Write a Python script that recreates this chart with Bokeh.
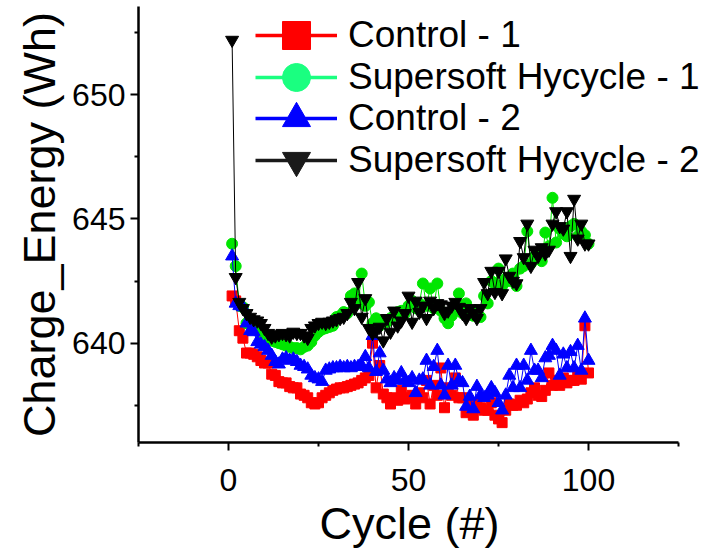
from bokeh.plotting import figure
from bokeh.models import Range1d, FixedTicker, Legend, LegendItem, Title
from bokeh.embed import file_html
from bokeh.resources import INLINE

cycles = list(range(1, 101))

control_1 = [
    641.9, 641.7, 640.5, 640.2, 639.6, 639.6, 639.55, 639.45, 639.3, 639.2,
    639.2, 638.75, 638.7, 638.45, 638.4, 638.4, 638.25, 638.2, 638.2, 637.95,
    637.9, 637.8, 637.6, 637.55, 637.6, 637.8, 637.9, 638.0, 638.1, 638.15,
    638.2, 638.2, 638.25, 638.3, 638.35, 638.4, 638.5, 638.6, 638.7, 640.0,
    638.2, 639.1, 637.95, 637.8, 637.55, 637.8, 637.7, 638.1, 637.75, 637.8,
    637.9, 637.55, 638.0, 637.8, 638.5, 637.55, 638.3, 637.9, 639.0, 637.4,
    638.2, 637.9, 638.6, 637.8, 637.8, 637.2, 637.5, 637.1, 637.55, 637.4,
    637.3, 637.3, 637.6, 637.1, 636.95, 636.8, 637.3, 637.55, 637.5, 637.5,
    637.7, 637.6, 637.75, 638.0, 638.2, 637.9, 637.85, 638.1, 638.8, 638.3,
    638.5, 638.3, 638.6, 638.4, 638.5, 638.5, 638.7, 638.55, 640.7, 638.8,
]

hycycle_1 = [
    644.0, 643.1, 641.5, 641.45, 640.8, 640.9, 640.7, 640.55, 640.45, 640.3,
    640.2, 640.1, 640.05, 640.0, 639.95, 639.9, 639.85, 639.8, 639.8, 639.75,
    639.85, 639.9, 640.05, 640.3, 640.45, 640.55, 640.6, 640.65, 640.7, 641.05,
    641.1, 641.25, 641.2, 641.9, 642.0, 641.6, 642.8, 641.5, 641.65, 640.8,
    641.0, 640.7, 640.9, 640.85, 641.0, 641.1, 641.25, 641.3, 641.2, 641.5,
    641.7, 641.4, 641.6, 642.4, 641.5, 642.2, 641.4, 642.4, 641.3, 641.0,
    640.8, 641.1, 641.3, 642.0, 641.2, 641.6, 641.2, 641.1, 641.3, 641.05,
    641.9, 641.6, 642.5, 642.4, 643.0, 642.3, 642.6, 642.5, 642.8, 642.3,
    643.0, 643.1, 644.5, 643.2, 643.5, 643.6, 643.3, 644.45, 643.9, 645.85,
    644.05, 644.6, 644.4, 644.3, 644.7, 644.8, 644.3, 644.5, 644.35, 644.0,
]

control_2 = [
    643.5, 641.6, 641.5, 641.45, 640.8, 640.5, 640.45, 640.05, 639.95, 639.85,
    639.7, 639.5, 639.25, 639.15, 639.35, 639.4, 639.3, 639.35, 639.25, 639.1,
    639.05, 638.95, 638.7, 638.6, 638.55, 638.45, 638.9, 638.95, 639.0, 639.0,
    639.05, 639.0, 639.05, 639.0, 639.05, 639.05, 639.1, 639.45, 639.0, 640.3,
    638.85, 639.6, 638.9, 638.55, 638.4, 638.6, 638.5, 638.8, 638.5, 638.4,
    638.6, 638.0, 638.5, 638.55, 639.3, 638.3, 639.05, 639.7, 638.3, 637.9,
    639.1, 638.3, 639.1, 638.5, 638.4, 637.45, 637.85, 637.35, 638.25, 637.9,
    637.8, 637.9, 638.2, 638.0, 637.6, 637.3, 637.9, 638.7, 638.2, 639.1,
    638.2, 639.1, 638.5, 639.7, 638.9, 638.9, 638.6, 639.4, 639.5, 639.9,
    639.7, 638.7, 639.55, 639.0, 639.65, 639.0, 639.9, 638.9, 641.0, 639.3,
]

hycycle_2 = [
    652.2, 642.65, 641.65, 641.4, 641.2, 641.05, 640.95, 640.9, 640.8, 640.6,
    640.4, 640.25, 640.3, 640.35, 640.4, 640.35, 640.3, 640.45, 640.4, 640.4,
    640.3, 640.2, 640.6, 640.7, 640.8, 640.85, 640.8, 640.85, 640.9, 640.95,
    641.0, 641.05, 641.2, 641.65, 641.4, 642.45, 641.05, 641.8, 640.6, 640.4,
    640.5, 640.65, 640.1, 641.0, 640.45, 641.3, 640.7, 640.9, 641.2, 641.9,
    640.85, 641.7, 641.25, 641.5, 641.0, 641.7, 641.4, 641.6, 641.55, 641.2,
    641.3, 641.5, 641.65, 641.45, 641.2, 641.0, 641.4, 641.2, 641.0, 641.4,
    642.45, 642.0, 642.9, 642.05, 642.9, 642.0, 643.4, 642.7, 642.5, 642.4,
    644.1, 643.45, 644.8, 643.1, 643.75, 643.5, 643.85, 643.6, 643.75, 644.8,
    645.3, 644.7, 644.6, 645.3, 643.5, 645.8, 644.2, 644.8, 644.0, 644.0,
]

series_labels = ["Control - 1", "Supersoft Hycycle - 1", "Control - 2", "Supersoft Hycycle - 2"]
x_ticks = [0, 50, 100]
x_minor_ticks = [-25, 25, 75, 125]
y_ticks = [640, 645, 650]
y_minor_ticks = [637.5, 642.5, 647.5, 652.5]
x_title = "Cycle (#)"
y_title = "Charge_Energy (Wh)"

FONT = "Liberation Sans"

# frame spans the full width on the right so the legend text is not clipped;
# the x axis itself is bounded to -25..125
p = figure(width=708, height=557, output_backend="svg", toolbar_location=None,
           x_range=Range1d(-25, 133.33), y_range=Range1d(636, 653.55),
           min_border_left=138, min_border_right=0, min_border_top=6,
           min_border_bottom=115)
p.outline_line_color = None
p.grid.visible = False
p.background_fill_color = "white"
p.border_fill_color = "white"

for ax, ticks, minor in ((p.xaxis, x_ticks, x_minor_ticks), (p.yaxis, y_ticks, y_minor_ticks)):
    ax.ticker = FixedTicker(ticks=ticks, minor_ticks=minor)
    ax.axis_line_width = 2.5
    ax.axis_line_color = "black"
    ax.major_tick_line_width = 2
    ax.minor_tick_line_width = 2
    ax.major_tick_out = 8
    ax.major_tick_in = 0
    ax.minor_tick_out = 4
    ax.minor_tick_in = 0
    ax.major_label_text_font = FONT
    ax.major_label_text_font_size = "32px"
    ax.major_label_text_color = "black"
    ax.axis_label_text_font = FONT
    ax.axis_label_text_font_size = "45px"
    ax.axis_label_text_font_style = "normal"
    ax.axis_label_text_color = "black"

p.xaxis.bounds = (-25, 125)
p.yaxis.bounds = (636, 653.55)
p.yaxis.axis_label = y_title
p.xaxis.major_label_standoff = 18
p.yaxis.major_label_standoff = 5
p.yaxis.axis_label_standoff = 4

# x title centred under the bounded axis (the frame runs wider than the axis)
p.add_layout(Title(text=x_title, align="left", offset=181, standoff=4,
                   text_font=FONT, text_font_size="45px",
                   text_font_style="normal", text_color="black"), "below")

data_colors = ["#ff0000", "#00e600", "#0000ff", "#000000"]
legend_colors = ["#ff0000", "#1aff80", "#0000ff", "#1a1a1a"]
markers = ["square", "circle", "triangle", "inverted_triangle"]
sizes = [10, 11, 13, 13]
all_series = [control_1, hycycle_1, control_2, hycycle_2]

for vals, col, mk, sz in zip(all_series, data_colors, markers, sizes):
    p.line(cycles, vals, line_color=col, line_width=1)
    p.scatter(cycles, vals, marker=mk, size=sz, fill_color=col, line_color=col)

nan = float("nan")
row_offsets = [371.7, 329.7, 288.7, 246.7]  # legend rows, screen px above the frame bottom
for lab, col, mk, vy in zip(series_labels, legend_colors, markers, row_offsets):
    lr = p.line([nan], [nan], line_color=col, line_width=3.5)
    sr = p.scatter([nan], [nan], marker=mk, fill_color=col, line_color=col)
    leg = Legend(items=[LegendItem(label=lab, renderers=[lr, sr])],
                 location=(117, vy), padding=0, margin=0,
                 glyph_width=82, glyph_height=70, label_standoff=11,
                 label_text_font=FONT, label_text_font_size="37px",
                 label_text_color="black", border_line_alpha=0,
                 background_fill_alpha=0)
    p.add_layout(leg, "center")

open("out.html", "w").write(file_html(p, INLINE))
